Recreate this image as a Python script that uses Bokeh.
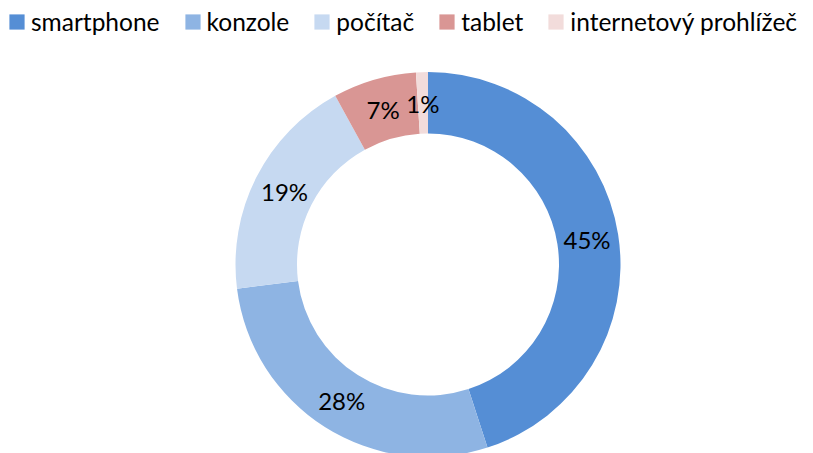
import math
from bokeh.plotting import figure
from bokeh.models import Legend, LegendItem, ColumnDataSource
from bokeh.core.properties import value
from bokeh.embed import file_html
from bokeh.resources import INLINE

categories = ["smartphone", "konzole", "počítač", "tablet", "internetový prohlížeč"]
shares = [45, 28, 19, 7, 1]
labels = ["45%", "28%", "19%", "7%", "1%"]
colors = ["#558ED5", "#8EB4E3", "#C6D9F1", "#D99694", "#F2DCDB"]

W, H = 813, 453
CX, CY = 427.5, H - 264
R_IN, R_OUT = 131, 192.5
R_LAB = 161

total = sum(shares)
starts, ends, mids = [], [], []
cum = 0
for v in shares:
    a0 = math.pi / 2 - 2 * math.pi * cum / total
    cum += v
    a1 = math.pi / 2 - 2 * math.pi * cum / total
    starts.append(a0)
    ends.append(a1)
    mids.append((a0 + a1) / 2)

src = ColumnDataSource(dict(
    cat=categories, start=starts, end=ends, color=colors, label=labels,
    lx=[CX + R_LAB * math.cos(m) for m in mids],
    ly=[CY + R_LAB * math.sin(m) for m in mids],
))

p = figure(width=W, height=H, x_range=(0, W), y_range=(0, H),
           output_backend="svg", toolbar_location=None, min_border=0,
           match_aspect=False)
p.axis.visible = False
p.grid.visible = False
p.outline_line_color = None

p.annular_wedge(x=CX, y=CY, inner_radius=R_IN, outer_radius=R_OUT,
                start_angle="start", end_angle="end", direction="clock",
                fill_color="color", line_color=None, source=src)

p.text(x="lx", y="ly", text="label", source=src, text_align="center",
       text_baseline="middle", text_font=value("Lato"),
       text_font_size="24px", text_color="#000000")

nan = float("nan")
items = []
for c, col in zip(categories, colors):
    r = p.quad(left=[nan], right=[nan], top=[nan], bottom=[nan],
               fill_color=col, line_color=None)
    items.append(LegendItem(label=c, renderers=[r]))

legend = Legend(items=items, orientation="horizontal", location="top_left",
                glyph_width=19, glyph_height=19, label_standoff=5, spacing=23,
                padding=0, margin=7, border_line_color=None,
                background_fill_alpha=0, label_text_font="Lato",
                label_text_font_size="24.5px", label_text_color="#000000")
p.add_layout(legend, "center")

open("out.html", "w").write(file_html(p, INLINE))
